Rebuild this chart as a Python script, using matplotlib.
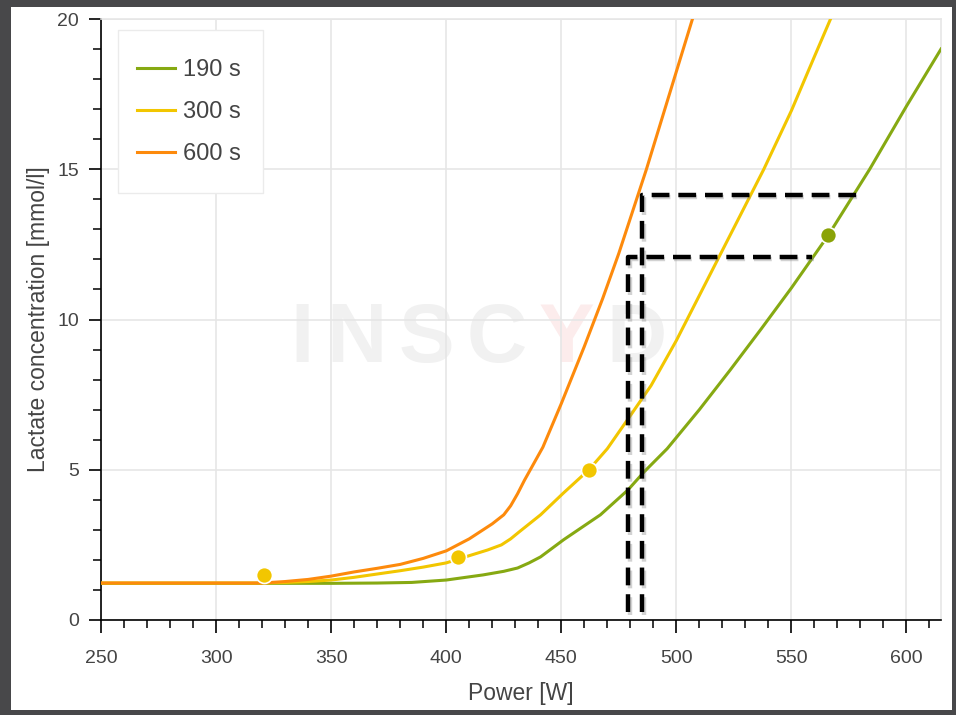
import matplotlib
matplotlib.use("Agg")
import matplotlib.pyplot as plt
import matplotlib.patheffects as pe
from matplotlib.patches import Rectangle
from matplotlib.ticker import MultipleLocator

plt.rcParams['font.family'] = ['Liberation Sans', 'DejaVu Sans']

# curve readings (power in W, lactate in mmol/l)
power_190 = [250, 350, 370, 385, 400, 416, 425, 431, 436, 441, 451, 467, 479, 486, 496, 510, 523.5, 537, 550, 566, 575, 584, 600, 615]
lact_190 = [1.22, 1.22, 1.23, 1.25, 1.33, 1.5, 1.62, 1.73, 1.9, 2.1, 2.67, 3.5, 4.33, 4.93, 5.7, 7.0, 8.33, 9.7, 11.05, 12.8, 13.9, 15.0, 17.1, 19.0]

power_300 = [250, 320, 330, 340, 350, 360, 370, 380, 390, 400, 405, 410, 418, 424, 428, 432, 441, 451, 462, 470, 480, 489, 500, 510, 520, 530, 538, 550, 560, 567, 570]
lact_300 = [1.23, 1.23, 1.25, 1.28, 1.33, 1.42, 1.53, 1.64, 1.76, 1.9, 2.02, 2.14, 2.33, 2.5, 2.7, 2.95, 3.5, 4.23, 5.0, 5.7, 6.8, 7.8, 9.3, 10.8, 12.3, 13.8, 15.0, 16.95, 18.75, 20.0, 20.5]

power_600 = [250, 320, 330, 340, 350, 360, 370, 380, 390, 400, 410, 415, 420, 425, 428, 431, 434, 438, 442, 450, 460, 468, 475, 487, 497, 507, 510]
lact_600 = [1.23, 1.23, 1.28, 1.35, 1.46, 1.6, 1.72, 1.85, 2.05, 2.3, 2.7, 2.95, 3.2, 3.5, 3.8, 4.2, 4.65, 5.2, 5.75, 7.2, 9.1, 10.7, 12.2, 15.0, 17.5, 20.0, 20.8]

# measured points
dots_300_power = [321, 405, 462]
dots_300_lact = [1.5, 2.1, 5.0]
dots_190_power = [566]
dots_190_lact = [12.8]

# dashed helper lines
thr_power = [479, 485]
thr_lact = [12.07, 14.13]
thr_end_power = [559, 579]
thr_bottom = 0.25

labels = ["190 s", "300 s", "600 s"]
colors = ["#86a912", "#f2c600", "#fd8a0c"]

fig = plt.figure(figsize=(9.56, 7.15), dpi=100)
fig.patch.set_facecolor("#48484a")
fig.add_artist(Rectangle((11 / 956, 1 - 710 / 715), 941 / 956, 703 / 715,
                         transform=fig.transFigure, facecolor="white",
                         edgecolor="none", zorder=0))

ax = fig.add_axes([101 / 956, 1 - 620 / 715, 840 / 956, 601 / 715])
ax.set_facecolor("none")

# watermark, letter by letter
wm_letters = "INSCYD"
wm_colors = ["#f1f1f1", "#f1f1f1", "#f1f1f1", "#f1f1f1", "#fcecec", "#f1f1f1"]
renderer = fig.canvas.get_renderer()
x_wm = 0.226
for ch, col in zip(wm_letters, wm_colors):
    t = ax.text(x_wm, 0.466, ch, transform=ax.transAxes, fontsize=60,
                fontweight="bold", color=col, ha="left", va="center", zorder=0.5)
    bb = t.get_window_extent(renderer)
    x_wm += bb.width / ax.bbox.width + 0.0145

ax.plot(power_190, lact_190, color=colors[0], lw=2.2, label=labels[0], zorder=3)
ax.plot(power_300, lact_300, color=colors[1], lw=2.2, label=labels[1], zorder=3)
ax.plot(power_600, lact_600, color=colors[2], lw=2.2, label=labels[2], zorder=3)

ax.plot(dots_300_power, dots_300_lact, "o", color=colors[1], ms=11.5,
        mec="white", mew=1.2, zorder=4)
ax.plot(dots_190_power, dots_190_lact, "o", color="#8aa307", ms=11.5,
        mec="white", mew=1.2, zorder=4)

shadow = [pe.SimpleLineShadow(offset=(1.5, -1.5), shadow_color="gray", alpha=0.35),
          pe.Normal()]
for p, l, e in zip(thr_power, thr_lact, thr_end_power):
    ax.plot([p, p, e], [thr_bottom, l, l], color="black", lw=3.2,
            dashes=(4, 2), zorder=5, path_effects=shadow)

ax.set_xlim(250, 615)
ax.set_ylim(0, 20)
ax.xaxis.set_major_locator(MultipleLocator(50))
ax.xaxis.set_minor_locator(MultipleLocator(10))
ax.yaxis.set_major_locator(MultipleLocator(5))
ax.yaxis.set_minor_locator(MultipleLocator(1))

ax.grid(True, which="major", color="#e6e6e6", lw=1.2, zorder=0)
ax.set_axisbelow(True)
for s in ["top", "right"]:
    ax.spines[s].set_color("#e6e6e6")
    ax.spines[s].set_linewidth(1.2)
for s in ["left", "bottom"]:
    ax.spines[s].set_color("black")
    ax.spines[s].set_linewidth(1.2)

ax.tick_params(which="major", direction="out", length=9, width=1.2,
               color="black", labelsize=14, labelcolor="#444444")
ax.tick_params(axis="x", which="major", pad=12.5)
ax.tick_params(axis="y", which="major", pad=7)
ax.tick_params(which="minor", direction="out", length=5.5, width=1.1, color="black")

ax.set_xlabel("Power [W]", fontsize=16.5, color="#444444", labelpad=11)
ax.set_ylabel("Lactate concentration [mmol/l]", fontsize=16.5, color="#444444", labelpad=5)

# legend box drawn separately so its padding can match
ax.add_patch(Rectangle((0.0202, 0.7105), 0.1726, 0.2712, transform=ax.transAxes,
                       facecolor="white", edgecolor="#ebebeb", lw=1.0, zorder=6))
leg = ax.legend(loc="upper left", bbox_to_anchor=(0.0429, 0.933), borderaxespad=0,
                fontsize=17, handlelength=1.6, handletextpad=0.34,
                labelspacing=0.85, borderpad=0, frameon=False)
leg.set_zorder(7)
for t in leg.get_texts():
    t.set_color("#444444")

fig.savefig("out.png", dpi=100, facecolor=fig.get_facecolor())
